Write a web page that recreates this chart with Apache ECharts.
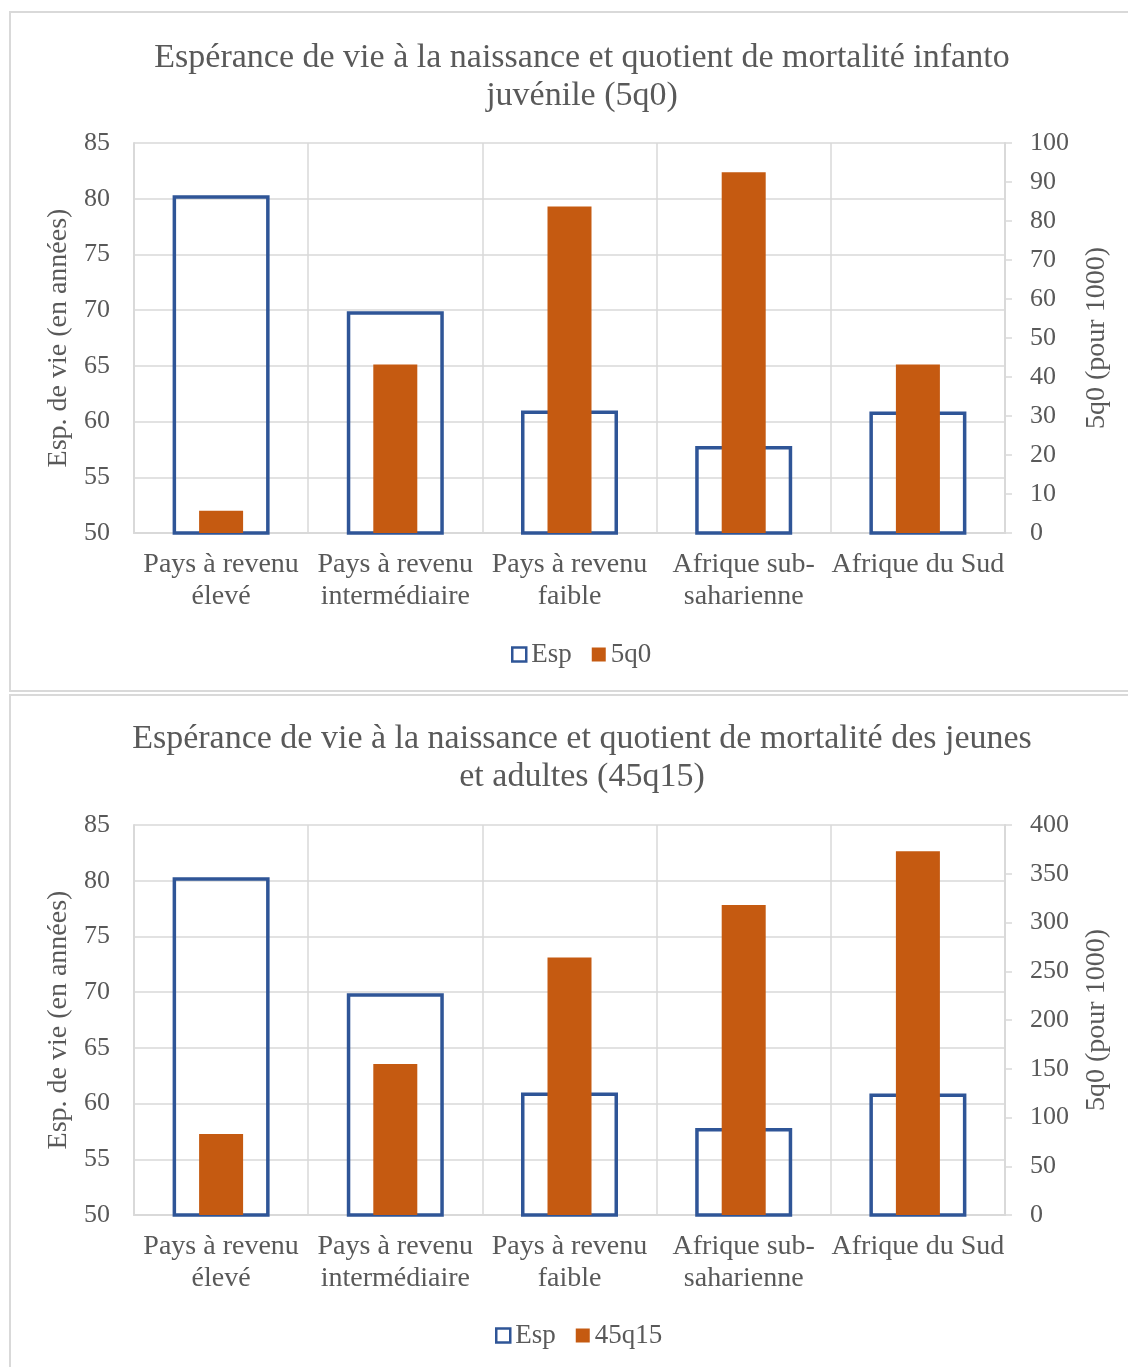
<!DOCTYPE html>
<html>
<head>
<meta charset="utf-8">
<script src="https://cdn.jsdelivr.net/npm/echarts@6/dist/echarts.min.js"></script>
<style>
  html, body { margin: 0; padding: 0; background: #ffffff; width: 1128px; height: 1367px; overflow: hidden; }
  .panel { position: absolute; border: 2px solid #d9d9d9; box-sizing: border-box; }
  #chart { position: absolute; left: 0; top: 0; width: 1128px; height: 1367px; }
</style>
</head>
<body>
<div class="panel" style="left:9px; top:11px; width:1140px; height:681px;"></div>
<div class="panel" style="left:9px; top:694px; width:1140px; height:700px;"></div>
<div id="chart"></div>
<script>
// ---- data ----
const categories = ['Pays à revenu\nélevé', 'Pays à revenu\nintermédiaire', 'Pays à revenu\nfaible', 'Afrique sub-\nsaharienne', 'Afrique du Sud'];
const espValues = [80.3, 69.9, 61.0, 57.8, 60.9];
const q5Values = [5.7, 43.2, 83.7, 92.5, 43.2];
const q45Values = [83, 155, 264, 318, 373];
const title1 = 'Espérance de vie à la naissance et quotient de mortalité infanto\njuvénile (5q0)';
const title2 = 'Espérance de vie à la naissance et quotient de mortalité des jeunes\net adultes (45q15)';
const leftAxisName = 'Esp. de vie (en années)';
const rightAxisName = '5q0 (pour 1000)';
const espTicks = { min: 50, max: 85, interval: 5 };
const q5Ticks = { min: 0, max: 100, interval: 10 };
const q45Ticks = { min: 0, max: 400, interval: 50 };

// ---- style ----
const FONT = '"Liberation Serif", "Times New Roman", serif';
const TXT = '#595959';
const GRID = '#d9d9d9';
const BLUE = '#2F5597';
const ORANGE = '#C55A11';

const chart = echarts.init(document.getElementById('chart'), null, { renderer: 'canvas' });

function grids(top) {
  return { left: 134, right: 123, top: top, height: 390 };
}
function catAxis(gridIndex, visible) {
  return {
    type: 'category', gridIndex: gridIndex, data: categories, show: visible,
    axisLine: { show: true, lineStyle: { color: GRID, width: 2 } },
    axisTick: { show: false },
    splitLine: { show: true, lineStyle: { color: GRID, width: 1.5 } },
    axisLabel: { color: TXT, fontFamily: FONT, fontSize: 28, lineHeight: 32, margin: 16, interval: 0 }
  };
}
function leftAxis(gridIndex) {
  return {
    type: 'value', gridIndex: gridIndex, position: 'left',
    min: espTicks.min, max: espTicks.max, interval: espTicks.interval,
    name: leftAxisName, nameLocation: 'middle', nameGap: 57, nameRotate: 90,
    nameTextStyle: { color: TXT, fontFamily: FONT, fontSize: 28 },
    axisLine: { show: true, lineStyle: { color: GRID, width: 2 } },
    axisTick: { show: false },
    splitLine: { show: true, lineStyle: { color: GRID, width: 1.5 } },
    axisLabel: { color: TXT, fontFamily: FONT, fontSize: 26, margin: 24 }
  };
}
function rightAxis(gridIndex, t) {
  return {
    type: 'value', gridIndex: gridIndex, position: 'right',
    min: t.min, max: t.max, interval: t.interval,
    name: rightAxisName, nameLocation: 'middle', nameGap: 78, nameRotate: 90,
    nameTextStyle: { color: TXT, fontFamily: FONT, fontSize: 28 },
    axisLine: { show: true, lineStyle: { color: GRID, width: 2 } },
    axisTick: { show: true, inside: false, length: 7, lineStyle: { color: GRID, width: 1.5 } },
    splitLine: { show: false },
    axisLabel: { color: TXT, fontFamily: FONT, fontSize: 26, margin: 25 }
  };
}
function legend(top, left, name2) {
  return {
    top: top, left: left, itemWidth: 14, itemHeight: 14, itemGap: 20,
    icon: 'rect',
    textStyle: { color: TXT, fontFamily: FONT, fontSize: 27 },
    data: [
      { name: 'Esp', itemStyle: { color: '#ffffff', borderColor: BLUE, borderWidth: 2.5 } },
      { name: name2, itemStyle: { color: ORANGE } }
    ]
  };
}
function titleOpt(text, top) {
  return {
    text: text, left: 577, top: top, textAlign: 'center',
    textStyle: { color: TXT, fontFamily: FONT, fontSize: 34, fontWeight: 'normal', lineHeight: 38 }
  };
}

const option = {
  animation: false,
  backgroundColor: 'transparent',
  title: [ titleOpt(title1, 34), titleOpt(title2, 715) ],
  legend: [ legend(636, 506, '5q0'), legend(1317, 490, '45q15') ],
  grid: [ grids(143), grids(825) ],
  xAxis: [ catAxis(0, true), catAxis(0, false), catAxis(1, true), catAxis(1, false) ],
  yAxis: [ leftAxis(0), rightAxis(0, q5Ticks), leftAxis(1), rightAxis(1, q45Ticks) ],
  series: [
    { name: 'Esp', type: 'bar', xAxisIndex: 0, yAxisIndex: 0, data: espValues, barWidth: 97, z: 2,
      itemStyle: { color: 'transparent', borderColor: BLUE, borderWidth: 3.5 } },
    { name: '5q0', type: 'bar', xAxisIndex: 1, yAxisIndex: 1, data: q5Values, barWidth: 44, z: 3,
      itemStyle: { color: ORANGE } },
    { name: 'Esp', type: 'bar', xAxisIndex: 2, yAxisIndex: 2, data: espValues, barWidth: 97, z: 2,
      itemStyle: { color: 'transparent', borderColor: BLUE, borderWidth: 3.5 } },
    { name: '45q15', type: 'bar', xAxisIndex: 3, yAxisIndex: 3, data: q45Values, barWidth: 44, z: 3,
      itemStyle: { color: ORANGE } }
  ]
};
chart.setOption(option);
</script>
</body>
</html>
